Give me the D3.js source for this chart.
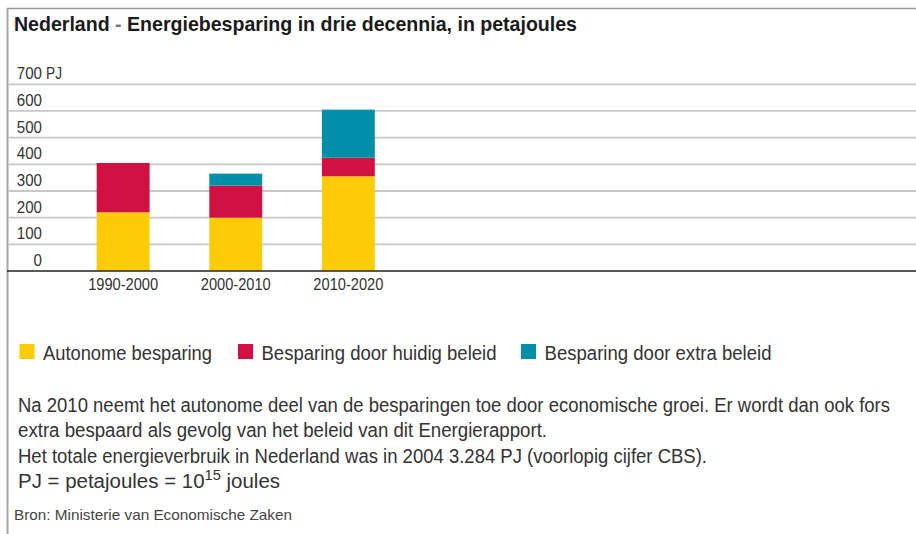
<!DOCTYPE html>
<html>
<head>
<meta charset="utf-8">
<script src="https://cdn.jsdelivr.net/npm/d3@7"></script>
<style>
  html, body { margin: 0; padding: 0; background: #fff; }
  svg { display: block; }
  text { font-family: "Liberation Sans Narrow", "Arial Narrow", "Liberation Sans", sans-serif; fill: #333; }
</style>
</head>
<body>
<svg id="chart" width="916" height="534"></svg>
<script>
const categories = ["1990-2000", "2000-2010", "2010-2020"];
const seriesNames = ["Autonome besparing", "Besparing door huidig beleid", "Besparing door extra beleid"];
const autonoom = [220, 200, 355];
const huidigBeleid = [185, 120, 70];
const extraBeleid = [0, 45, 180];
const yTicks = [0, 100, 200, 300, 400, 500, 600, 700];
const colors = ["#fecb07", "#d11141", "#008fa9"];
const title = "Energiebesparing in drie decennia, in petajoules";
const noteLines = [
  "Na 2010 neemt het autonome deel van de besparingen toe door economische groei. Er wordt dan ook fors",
  "extra bespaard als gevolg van het beleid van dit Energierapport.",
  "Het totale energieverbruik in Nederland was in 2004 3.284 PJ (voorlopig cijfer CBS)."
];
const source = "Bron: Ministerie van Economische Zaken";

const svg = d3.select("#chart");

// frame
svg.append("line").attr("x1", 7.5).attr("x2", 7.5).attr("y1", 8).attr("y2", 534)
  .attr("stroke", "#a8a8a8").attr("stroke-width", 2);
svg.append("line").attr("x1", 7).attr("x2", 916).attr("y1", 8.5).attr("y2", 8.5)
  .attr("stroke", "#9a9a9a").attr("stroke-width", 1.5);

// title
const t = svg.append("text").attr("x", 14).attr("y", 31).style("font-size", "21px").style("font-weight", "bold")
  .attr("textLength", 563).attr("lengthAdjust", "spacingAndGlyphs");
t.append("tspan").text("Nederland").style("fill", "#1a1a1a");
t.append("tspan").text(" - ").style("fill", "#777");
t.append("tspan").text(title).style("fill", "#1a1a1a");

// scales
const y = d3.scaleLinear().domain([0, 700]).range([271, 84.3]);
const x = d3.scaleBand().domain(categories).range([37, 434.5]).paddingInner(0.53).paddingOuter(0.53);

// gridlines
svg.append("g").selectAll("line").data(yTicks.filter(d => d > 0)).join("line")
  .attr("x1", 8.5).attr("x2", 916)
  .attr("y1", d => y(d)).attr("y2", d => y(d))
  .attr("stroke", "#c8c8c8").attr("stroke-width", 1.8);

// y labels
svg.append("g").selectAll("text").data(yTicks).join("text")
  .attr("x", 42).attr("y", d => y(d) - 5)
  .attr("text-anchor", "end")
  .style("font-size", "16px")
  .attr("textLength", d => String(d).length * 8.4).attr("lengthAdjust", "spacingAndGlyphs")
  .text(d => d);
svg.append("text").attr("x", 46).attr("y", y(700) - 5).style("font-size", "16px")
  .attr("textLength", 16).attr("lengthAdjust", "spacingAndGlyphs").text("PJ");

// stacked bars
const rows = categories.map((c, i) => ({ cat: c, s0: autonoom[i], s1: huidigBeleid[i], s2: extraBeleid[i] }));
const stack = d3.stack().keys(["s0", "s1", "s2"])(rows);
svg.append("g").selectAll("g").data(stack).join("g")
  .attr("fill", (d, i) => colors[i])
  .selectAll("rect").data(d => d).join("rect")
  .attr("x", d => x(d.data.cat))
  .attr("width", x.bandwidth())
  .attr("y", d => y(d[1]))
  .attr("height", d => y(d[0]) - y(d[1]));

// baseline
svg.append("line").attr("x1", 7).attr("x2", 916).attr("y1", y(0)).attr("y2", y(0))
  .attr("stroke", "#222").attr("stroke-width", 1.6);

// x labels
svg.append("g").selectAll("text").data(categories).join("text")
  .attr("x", d => x(d) + x.bandwidth() / 2).attr("y", 290)
  .attr("text-anchor", "middle").style("font-size", "16px")
  .attr("textLength", 70).attr("lengthAdjust", "spacingAndGlyphs")
  .text(d => d);

// legend
const legendX = [19.5, 238, 521];
const legendW = [169, 235, 227];
const lg = svg.append("g").selectAll("g").data(seriesNames).join("g")
  .attr("transform", (d, i) => `translate(${legendX[i]},344)`);
lg.append("rect").attr("width", 15).attr("height", 15).attr("fill", (d, i) => colors[i]);
lg.append("text").attr("x", 23.5).attr("y", 15.5).style("font-size", "20px")
  .attr("textLength", (d, i) => legendW[i]).attr("lengthAdjust", "spacingAndGlyphs")
  .text(d => d);

// notes
const noteW = [872, 529, 689];
svg.append("g").selectAll("text").data(noteLines).join("text")
  .attr("x", 18).attr("y", (d, i) => 411.5 + i * 25.5)
  .style("font-size", "19.5px")
  .attr("textLength", (d, i) => noteW[i]).attr("lengthAdjust", "spacingAndGlyphs")
  .text(d => d);
const pj = svg.append("text").attr("x", 18).attr("y", 488).style("font-size", "19.5px")
  .attr("textLength", 262).attr("lengthAdjust", "spacingAndGlyphs");
pj.append("tspan").text("PJ = petajoules = 10");
pj.append("tspan").text("15").attr("dy", -8).style("font-size", "14px");
pj.append("tspan").text(" joules").attr("dy", 8);

// source
svg.append("text").attr("x", 14).attr("y", 519.5).style("font-size", "15px")
  .attr("textLength", 278).attr("lengthAdjust", "spacingAndGlyphs")
  .style("fill", "#444").text(source);
</script>
</body>
</html>
